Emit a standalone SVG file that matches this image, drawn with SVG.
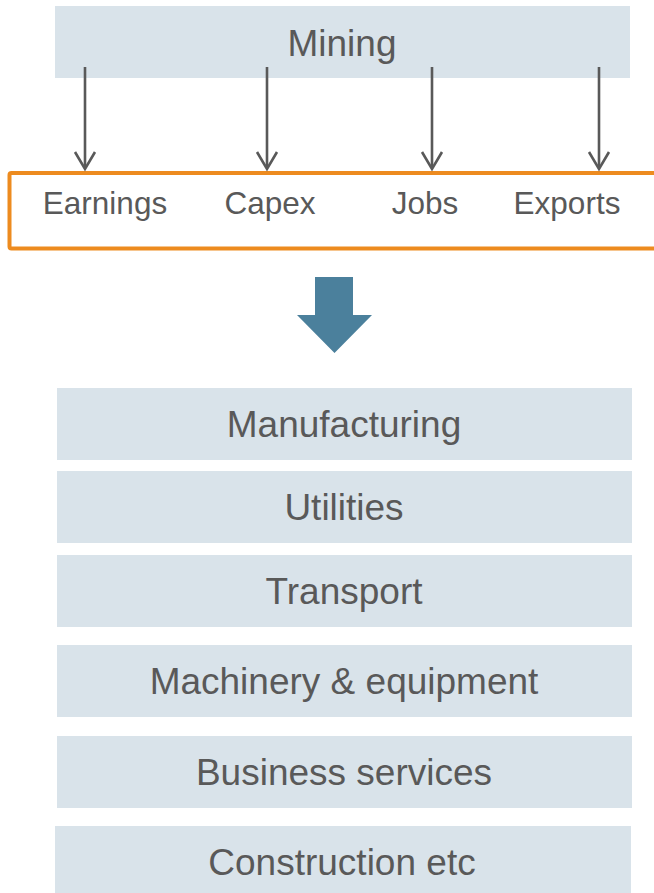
<svg xmlns="http://www.w3.org/2000/svg" width="654" height="893" viewBox="0 0 654 893">
  <style>
    .box { fill: #d9e3ea; }
    .lbl { font-family: "Liberation Sans", Arial, sans-serif; fill: #595959; text-anchor: middle; }
    .big { font-size: 37px; }
    .small { font-size: 31.5px; }
    .link { stroke: #595959; stroke-width: 2.6; fill: none; }
  </style>

  <rect width="654" height="893" fill="#ffffff"/>

  <g id="mining">
    <rect class="box" x="55" y="6" width="575" height="72"/>
    <text class="lbl big" x="342" y="56">Mining</text>
  </g>

  <g id="channels">
    <rect x="9.5" y="173" width="652" height="75.5" rx="2" fill="#ffffff" stroke="#ed8b1f" stroke-width="4"/>
    <text class="lbl small" x="105" y="214">Earnings</text>
    <text class="lbl small" x="270" y="214">Capex</text>
    <text class="lbl small" x="425" y="214">Jobs</text>
    <text class="lbl small" x="567" y="214">Exports</text>
  </g>

  <g id="connectors">
    <path class="link" d="M85,67 V168 M267,67 V168 M432,67 V168 M599,67 V168"/>
    <path class="link" d="M75,152 L85,169 L95,152 M257,152 L267,169 L277,152 M422,152 L432,169 L442,152 M589,152 L599,169 L609,152"/>
    <polygon id="flow-arrow" points="315,277 353,277 353,315 372,315 334.5,353 297,315 315,315" fill="#4b809c"/>
  </g>

  <g id="manufacturing">
    <rect class="box" x="57" y="388" width="575" height="72"/>
    <text class="lbl big" x="344" y="437">Manufacturing</text>
  </g>
  <g id="utilities">
    <rect class="box" x="57" y="471" width="575" height="72"/>
    <text class="lbl big" x="344" y="520">Utilities</text>
  </g>
  <g id="transport">
    <rect class="box" x="57" y="555" width="575" height="72"/>
    <text class="lbl big" x="344" y="604">Transport</text>
  </g>
  <g id="machinery">
    <rect class="box" x="57" y="645" width="575" height="72"/>
    <text class="lbl big" x="344" y="694">Machinery &amp; equipment</text>
  </g>
  <g id="business-services">
    <rect class="box" x="57" y="736" width="575" height="72"/>
    <text class="lbl big" x="344" y="785">Business services</text>
  </g>
  <g id="construction">
    <rect class="box" x="55" y="826" width="576" height="67"/>
    <text class="lbl big" x="342" y="875">Construction etc</text>
  </g>
</svg>
